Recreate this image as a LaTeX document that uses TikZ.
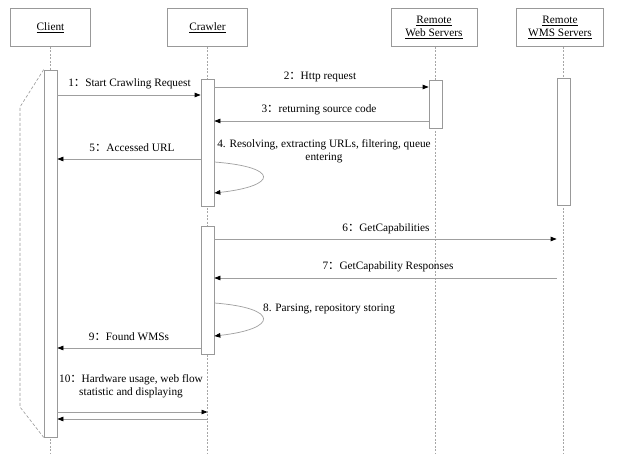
\documentclass[tikz,border=0pt]{standalone}
\usepackage{fontspec}
\setmainfont{Liberation Serif}
\newfontfamily\cjk{Noto Sans CJK SC}
\usetikzlibrary{arrows.meta}
% full-width colon used after the message numbers
\newcommand\fcolon{{\cjk ：}}
\begin{document}
\begin{tikzpicture}[x=1pt,y=-1pt,
  font=\fontsize{11.3}{13}\selectfont,
  head/.style={draw=gray!80, line width=0.7pt, fill=white, minimum height=38pt,
    inner sep=0pt, align=center},
  act/.style={draw=gray!80, line width=0.7pt, fill=white, minimum width=13pt, inner sep=0pt},
  life/.style={draw=gray!70, line width=0.5pt, dash pattern=on 2pt off 1.5pt},
  frame/.style={draw=gray!80, line width=0.6pt, dash pattern=on 3pt off 2pt},
  msg/.style={draw=gray!75, line width=0.7pt, -{Triangle[length=6pt,width=4.5pt,color=black]}},
  lbl/.style={anchor=base, inner sep=0pt, align=center}]
\fill[white] (0,0) rectangle (619,463);
\useasboundingbox (0,0) rectangle (619,463);

% participants
\node[head, minimum width=80pt] (client)  at (50.5,27.5)  {\underline{Client}};
\node[head, minimum width=80pt] (crawler) at (207.5,27.5) {\underline{Crawler}};
\node[head, minimum width=86pt] (web)     at (434,27.5)   {\underline{Remote}\\\underline{Web Servers}};
\node[head, minimum width=87pt] (wms)     at (560,27.5)   {\underline{Remote}\\\underline{WMS Servers}};

% lifeline ends
\coordinate (end)  at (0,453);
\coordinate (cwmsx) at (563.5,0);
\coordinate (cwebx) at (435.5,0);
\draw[life] (client.south) -- (client.south |- end);
\draw[life] (crawler.south) -- (crawler.south |- end);
\draw[life] (cwebx |- web.south) -- (cwebx |- end);
\draw[life] (cwmsx |- wms.south) -- (cwmsx |- end);

% activation bars
\node[act, minimum height=367pt] (ca)  at (50.5,253.5)  {};
\node[act, minimum height=127pt] (cb1) at (207.5,142.5) {};
\node[act, minimum height=128pt] (cb2) at (207.5,290)   {};
\node[act, minimum height=48pt]  (ws)  at (435.5,104)   {};
\node[act, minimum height=127pt] (wm)  at (563.5,141.5) {};

% dashed outline beside the client bar
\coordinate (fa) at (20,107);
\coordinate (fb) at (20,407);
\draw[frame] (ca.north west) -- (fa) -- (fb) -- (ca.south west);

% message levels
\coordinate (m1) at (0,95);
\coordinate (m2) at (0,87);
\coordinate (m3) at (0,121);
\coordinate (m4a) at (0,162);
\coordinate (m4b) at (0,193);
\coordinate (m5) at (0,159);
\coordinate (m6) at (0,239);
\coordinate (m7) at (0,278);
\coordinate (m8a) at (0,303);
\coordinate (m8b) at (0,336);
\coordinate (m9) at (0,348);
\coordinate (m10) at (0,412);
\coordinate (m11) at (0,419);

% messages
\draw[msg] (ca.east |- m1) -- (cb1.west |- m1);
\node[lbl] (l1) at (129.5,86) {1\fcolon Start Crawling Request};

\draw[msg] (cb1.east |- m2) -- (ws.west |- m2);
\node[lbl] (l2) at (320,79) {2\fcolon Http request};

\draw[msg] (ws.west |- m3) -- (cb1.east |- m3);
\node[lbl] (l3) at (319,112) {3\fcolon returning source code};

\draw[msg] (cb1.east |- m4a) .. controls (280,167) and (278,186) .. (cb1.east |- m4b);
\node[lbl] (l4) at (324,160) {4. Resolving, extracting URLs, filtering, queue\\entering};

\draw[msg] (cb1.west |- m5) -- (ca.east |- m5);
\node[lbl] (l5) at (132,151) {5\fcolon Accessed URL};

\draw[msg] (cb2.east |- m6) -- (wm.west |- m6);
\node[lbl] (l6) at (386,231) {6\fcolon GetCapabilities};

\draw[msg] (wm.west |- m7) -- (cb2.east |- m7);
\node[lbl] (l7) at (388,269) {7\fcolon GetCapability Responses};

\draw[msg] (cb2.east |- m8a) .. controls (280,308) and (278,329) .. (cb2.east |- m8b);
\node[lbl, anchor=base west] (l8) at (263,311) {8. Parsing, repository storing};

\draw[msg] (cb2.west |- m9) -- (ca.east |- m9);
\node[lbl] (l9) at (129,340) {9\fcolon Found WMSs};

\draw[msg] (ca.east |- m10) -- (crawler.south |- m10);
\draw[msg] (crawler.south |- m11) -- (ca.east |- m11);
\node[lbl] (l10) at (131,395) {10\fcolon Hardware usage, web flow\\statistic and displaying};
\end{tikzpicture}
\end{document}
